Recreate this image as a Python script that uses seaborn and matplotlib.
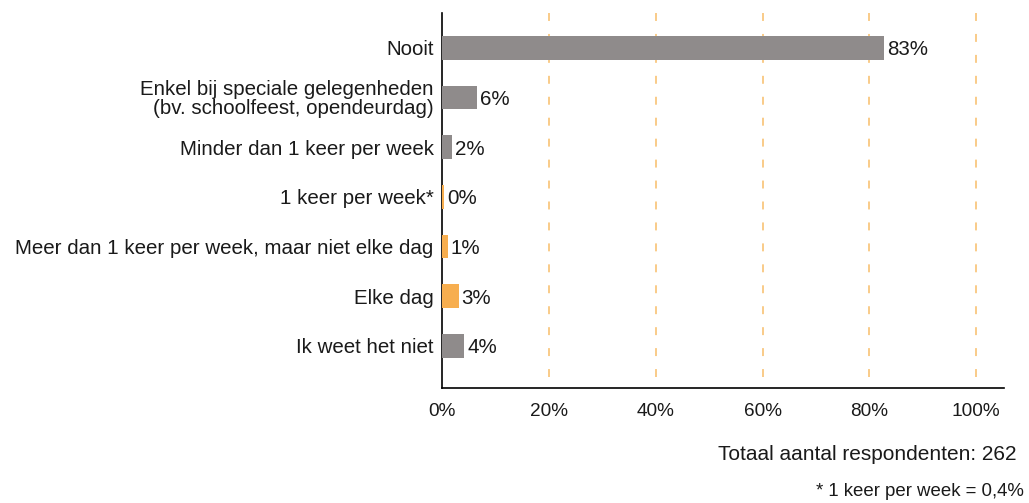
import matplotlib
matplotlib.use('Agg')
import matplotlib.pyplot as plt
from matplotlib.ticker import FuncFormatter
import seaborn as sns
import pandas as pd

categories = [
    'Nooit',
    'Enkel bij speciale gelegenheden\n(bv. schoolfeest, opendeurdag)',
    'Minder dan 1 keer per week',
    '1 keer per week*',
    'Meer dan 1 keer per week, maar niet elke dag',
    'Elke dag',
    'Ik weet het niet',
]
percentages = [82.8, 6.49, 1.9, 0.4, 1.1, 3.1, 4.2]
bar_colors = ['#8f8b8b', '#8f8b8b', '#8f8b8b', '#f7ae4f', '#f7ae4f', '#f7ae4f', '#8f8b8b']
x_ticks = [0, 20, 40, 60, 80, 100]
total_text = 'Totaal aantal respondenten: 262'
footnote = '* 1 keer per week = 0,4%'

sns.set_style('white')
plt.rcParams['font.family'] = ['Liberation Sans', 'DejaVu Sans']
txt_color = '#1a1a1a'

df = pd.DataFrame({'cat': categories, 'pct': percentages})

fig = plt.figure(figsize=(10.29, 5.03), dpi=100)
ax = fig.add_axes([0.4295, 0.2286, 0.5462, 0.7455])

sns.barplot(data=df, x='pct', y='cat', hue='cat', palette=bar_colors,
            saturation=1, legend=False, width=0.48, linewidth=0, ax=ax, zorder=3)

# gestreepte rasterlijnen, van boven naar beneden getekend
for x in x_ticks[1:]:
    ax.plot([x, x], [-0.70, 6.85], color='#f9c77f', linestyle=(0, (4.4, 7.2)),
            linewidth=1.3, zorder=1)

for i, v in enumerate(percentages):
    ax.text(v + 0.55, i, f'{round(v)}%', va='center_baseline', ha='left',
            fontsize=14.8, color=txt_color)

ax.set_xlim(0, 105.2)
ax.set_ylim(6.85, -0.70)
ax.set_xticks(x_ticks)
ax.xaxis.set_major_formatter(FuncFormatter(lambda x, _: f'{int(x)}%'))
ax.set_xlabel('')
ax.set_ylabel('')
ax.tick_params(axis='x', length=0, labelsize=13.7, colors=txt_color, pad=11)
ax.tick_params(axis='y', length=0, labelsize=14.8, colors=txt_color, pad=6)
for lbl in ax.get_yticklabels():
    lbl.set_linespacing(0.95)
for side in ['top', 'right']:
    ax.spines[side].set_visible(False)
for side in ['left', 'bottom']:
    ax.spines[side].set_color('black')
    ax.spines[side].set_linewidth(1.2)

fig.text(1016 / 1029, 1 - 455 / 503, total_text, ha='right', va='center',
         fontsize=15, color=txt_color)
fig.text(1024 / 1029, 1 - 491 / 503, footnote, ha='right', va='center',
         fontsize=13.4, color=txt_color)

plt.savefig('out.png', dpi=100)
plt.close()
